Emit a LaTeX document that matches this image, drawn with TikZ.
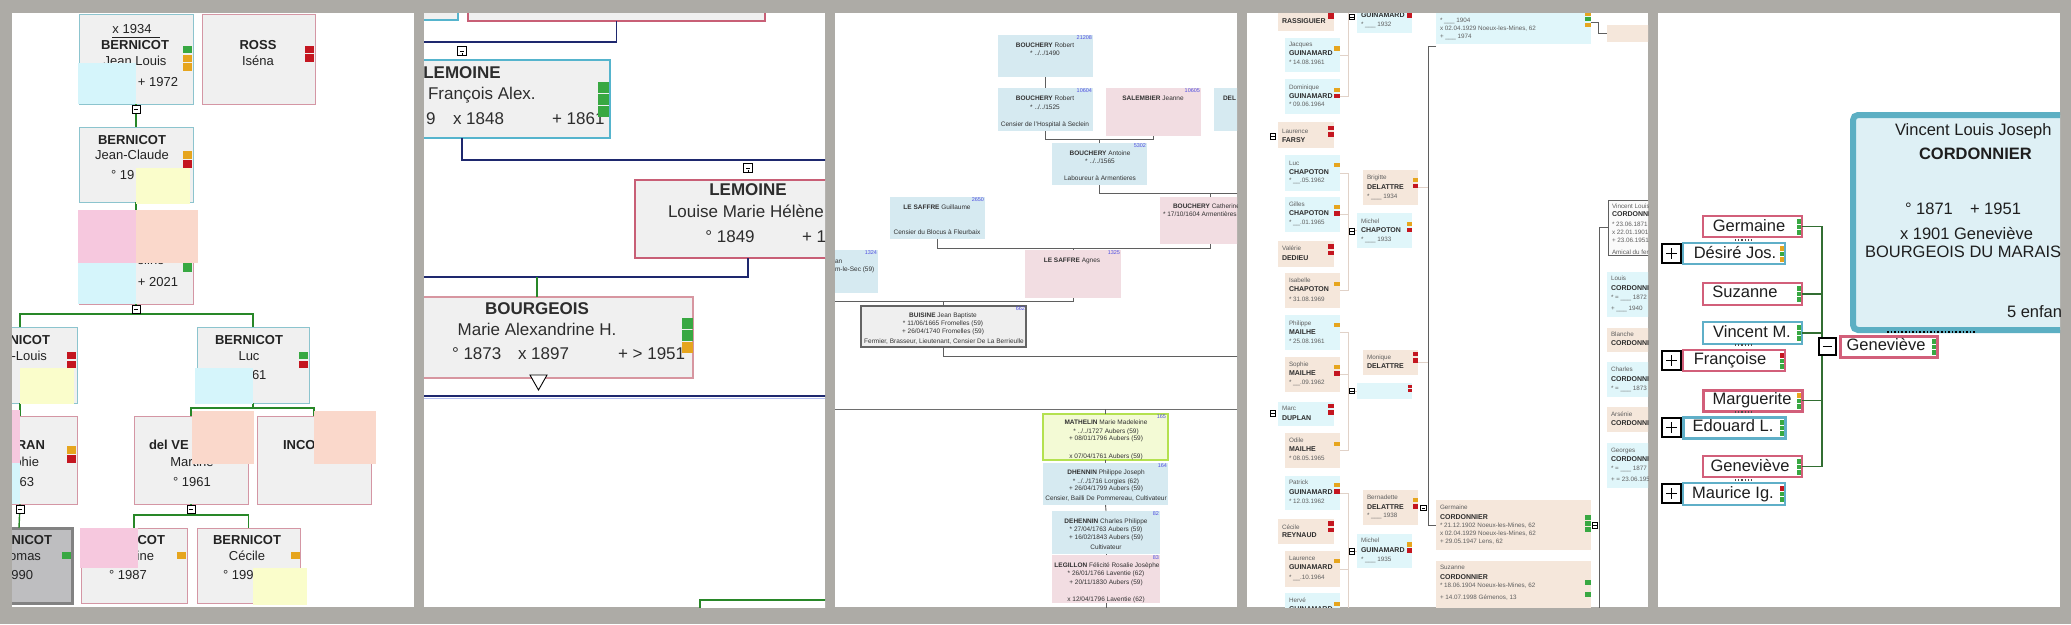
\documentclass[tikz,border=0pt]{standalone}
\usepackage{fontspec}
\setmainfont{Liberation Sans}
\usetikzlibrary{calc}
\definecolor{bgc}{RGB}{173,171,166}
\definecolor{boxg}{RGB}{240,240,240}
\definecolor{tealb}{RGB}{140,196,206}
\definecolor{pinkb}{RGB}{212,150,164}
\definecolor{mkg}{RGB}{56,168,66}
\definecolor{mko}{RGB}{230,165,30}
\definecolor{mkr}{RGB}{196,22,32}
\definecolor{ovc}{RGB}{213,245,251}
\definecolor{ovy}{RGB}{250,253,203}
\definecolor{ovp}{RGB}{246,200,222}
\definecolor{ovk}{RGB}{250,216,203}
\definecolor{gln}{RGB}{40,135,40}
\definecolor{txd}{RGB}{35,35,35}
\definecolor{grayfill}{RGB}{190,190,192}
\definecolor{grayb}{RGB}{130,130,130}
\definecolor{navy}{RGB}{30,40,110}
\definecolor{cyanb}{RGB}{85,180,205}
\definecolor{redb}{RGB}{200,95,118}
\definecolor{pinkt}{RGB}{215,150,160}
\definecolor{bluef}{RGB}{214,234,241}
\definecolor{pinkf}{RGB}{242,221,226}
\definecolor{numc}{RGB}{80,80,225}
\definecolor{lnc}{RGB}{95,95,95}
\definecolor{matf}{RGB}{243,250,213}
\definecolor{matb}{RGB}{180,225,80}
\definecolor{bluef4}{RGB}{224,246,250}
\definecolor{peach4}{RGB}{245,231,219}
\definecolor{lcon}{RGB}{225,210,200}
\definecolor{tfc}{RGB}{95,95,95}
\definecolor{tfb}{RGB}{45,45,45}
\definecolor{bigf}{RGB}{222,240,245}
\definecolor{bigb}{RGB}{92,175,195}
\definecolor{pkv}{RGB}{210,95,122}
\definecolor{tlv}{RGB}{95,175,200}
\definecolor{gcv}{RGB}{50,110,50}
\tikzset{
 bxs/.style={anchor=north west,inner sep=0,outer sep=0,shape=rectangle},
 txt/.style={inner sep=0,outer sep=0,anchor=mid,text=txd},
 pteal/.style={draw=tealb,fill=boxg,line width=1},
 ppink/.style={draw=pinkb,fill=boxg,line width=1},
 gl/.style={draw=gln,line width=1.4},
 nv/.style={draw=navy,line width=1.8},
 lthree/.style={draw=lnc,line width=0.9},
 lc/.style={draw=lcon,line width=0.7},
 ldark/.style={draw=lnc,line width=1},
 gfive/.style={draw=gcv,line width=1.3},
 sbox/.style={fill=white,line width=2},
 iconbox/.style={draw=black,fill=white,inner sep=0,outer sep=0,shape=rectangle},
}
\newcounter{tn}
\newcommand\T[4][]{\stepcounter{tn}\node[txt,#1] (t\arabic{tn}) at (#2,#3) {#4};}
\newcommand\Bx[6][]{\node[bxs,#1,minimum width={(#5)-(#3)},minimum height={(#6)-(#4)}] (#2) at (#3,#4) {};}
\newcommand\Mk[5]{\fill[#1] (#2,#3) rectangle (#4,#5);}
\newcommand\Mn[5][0.8]{\node[iconbox,line width=#1,minimum size=#5] (#2) at (#3,#4) {};
 \draw[line width=#1] ([xshift=-0.28*#5]#2.center) -- ([xshift=0.28*#5]#2.center);}
\newcommand\Pl[5][0.8]{\node[iconbox,line width=#1,minimum size=#5] (#2) at (#3,#4) {};
 \draw[line width=#1] ([xshift=-0.28*#5]#2.center) -- ([xshift=0.28*#5]#2.center);
 \draw[line width=#1] ([yshift=-0.28*#5]#2.center) -- ([yshift=0.28*#5]#2.center);}
\newcommand\Tri[5]{\fill[#3] (#1,#2) rectangle ++(3.5,4.5); \fill[#4] (#1,{#2+5.5}) rectangle ++(3.5,4.5); \fill[#5] (#1,{#2+11}) rectangle ++(3.5,4.5);}
\newcommand\Bf[1]{{\fontsize{7}{8}\selectfont\bfseries\color{tfb}#1}}
\begin{document}
\begin{tikzpicture}[x=1pt,y=-1pt]
\useasboundingbox (0,0) rectangle (2071,624);
\fill[bgc] (0,0) rectangle (2071,624);

%================ PANEL 1
\begin{scope}
\clip (12,13) rectangle (414,607);
\fill[white] (12,13) rectangle (414,607);
\begin{scope}[txt/.append style={font=\fontsize{13}{15}\selectfont}]
\Bx[pteal]{pA}{79}{14}{193}{104}
\Bx[ppink]{pRoss}{202}{14}{315}{104}
\Bx[pteal]{pB}{79}{127}{193}{202}
\Bx[ppink]{pC}{79}{216}{193}{304}
\Bx[pteal]{pD}{-37}{327}{77}{403}
\Bx[pteal]{pE}{197}{327}{309}{403}
\Bx[ppink]{pF}{-37}{416}{77}{504}
\Bx[ppink]{pG}{134}{416}{248}{504}
\Bx[ppink]{pH}{257}{416}{371}{504}
\Bx[draw=grayb,fill=grayfill,line width=3]{pI}{-34}{528}{72}{603}
\Bx[ppink]{pJ}{81}{528}{187}{603}
\Bx[ppink]{pK}{197}{528}{300}{603}
% connectors
\draw[gl] (pA.south) -- (pB.north);
\draw[gl] (pB.south) -- (pC.north);
\draw[gl] (pC.south) -- ++(0,10);
\draw[gl] (pD.north) -- ++(0,-13) -| (pE.north);
\draw[gl] (pD.south) -- (pF.north);
\draw[gl] (pE.south) -- ++(0,5) coordinate (pe1);
\draw[gl] (pG.north) |- (pe1) -| (pH.north);
\draw[gl] (pF.south) -- (pI.north);
\draw[gl] (pG.south) -- ++(0,11) coordinate (pg1);
\draw[gl] (pJ.north) |- (pg1) -| (pK.north);
\Mn{mA}{136}{109}{8}
\Mn{mC}{136}{309.5}{8}
\Mn{mF}{20}{509.5}{8}
\Mn{mG}{191}{509.5}{8}
% texts
\T{132}{31}{x 1934}
\draw[txd,line width=0.8] (112,37.5) -- (160,37.5);
\T{135}{47}{\textbf{BERNICOT}}
\T{135}{63}{Jean Louis}
\T{158}{84}{+ 1972}
\T{258}{47}{\textbf{ROSS}}
\T{258}{63}{Iséna}
\T{132}{142}{\textbf{BERNICOT}}
\T{132}{157}{Jean-Claude}
\T[anchor=mid west]{111}{177}{° 19}
\T[anchor=mid west]{137}{262}{eline}
\T{158}{284}{+ 2021}
\T[anchor=mid east]{50}{342}{\textbf{NICOT}}
\T[anchor=mid east]{47}{358}{-Louis}
\T{249}{342}{\textbf{BERNICOT}}
\T{249}{358}{Luc}
\T[anchor=mid west]{252}{377}{61}
\T[anchor=mid east]{45}{447}{\textbf{RAN}}
\T[anchor=mid east]{39}{464}{phie}
\T[anchor=mid east]{34}{484}{63}
\T[anchor=mid west]{149}{447}{\textbf{del VE}}
\T{192}{464}{Martine}
\T{192}{484}{° 1961}
\T[anchor=mid west]{283}{447}{\textbf{INCO}}
\T[anchor=mid east]{52}{542}{\textbf{NICOT}}
\T[anchor=mid east]{41}{558}{omas}
\T[anchor=mid east]{33}{577}{990}
\T[anchor=mid east]{165}{542}{\textbf{COT}}
\T[anchor=mid east]{154}{558}{ine}
\T{128}{577}{° 1987}
\T{247}{542}{\textbf{BERNICOT}}
\T{247}{558}{Cécile}
\T[anchor=mid west]{223}{577}{° 199}
\end{scope}
% markers
\Mk{mkg}{183}{46}{192}{53} \Mk{mko}{183}{55}{192}{62} \Mk{mko}{183}{63}{192}{71}
\Mk{mkr}{305}{46}{314}{53} \Mk{mkr}{305}{54}{314}{62}
\Mk{mko}{183}{151}{192}{159} \Mk{mkr}{183}{160}{192}{168}
\Mk{mkg}{183}{263}{192}{272}
\Mk{mkr}{67}{352}{76}{359} \Mk{mkr}{67}{361}{76}{368}
\Mk{mkg}{299}{352}{308}{359} \Mk{mkr}{299}{361}{308}{368}
\Mk{mko}{67}{446}{76}{454} \Mk{mkr}{67}{455}{76}{463}
\Mk{mkg}{62}{552}{71}{559}
\Mk{mko}{177}{552}{186}{559}
\Mk{mko}{291}{552}{300}{559}
% overlays
\fill[ovc] (78,63) rectangle (136,104);
\fill[ovy] (136,168) rectangle (190,204);
\fill[ovp] (78,210) rectangle (136,263);
\fill[ovk] (136,210) rectangle (198,263);
\fill[ovc] (78,263) rectangle (136,304);
\fill[ovy] (20,368) rectangle (74,404);
\fill[ovc] (195,368) rectangle (253,404);
\fill[ovp] (12,410) rectangle (20,463);
\fill[ovc] (12,463) rectangle (20,504);
\fill[ovk] (192,411) rectangle (254,464);
\fill[ovk] (314,411) rectangle (376,464);
\fill[ovp] (80,528) rectangle (138,568);
\fill[ovy] (253,568) rectangle (307,605);
\end{scope}

%================ PANEL 2
\begin{scope}
\clip (424,13) rectangle (825,607);
\fill[white] (424,13) rectangle (825,607);
\begin{scope}[txt/.append style={font=\fontsize{17}{19}\selectfont,text={rgb,255:red,45;green,45;blue,45}}]
\Bx[draw=cyanb,fill=boxg,line width=2.5]{qTC}{380}{-10}{458}{20}
\Bx[draw=redb,fill=boxg,line width=2.5]{qTP}{468}{-10}{765}{21}
\Bx[draw=cyanb,fill=boxg,line width=2.5]{qLF}{314}{60}{610}{138}
\Bx[draw=redb,fill=boxg,line width=2.5]{qLL}{635}{180}{861}{258}
\Bx[draw=pinkt,fill=boxg,line width=1.2]{qBG}{381}{297}{693}{378}
\Bx[draw=gln,fill=white,line width=2.5]{qGB}{700}{600}{860}{640}
\coordinate (qL1) at (400,42);
\coordinate (qR1) at (840,160);
\coordinate (qL2) at (400,277);
\coordinate (qf) at (462,138);
\draw[nv] (qTP.south) |- (qL1);
\draw[nv] (qf) |- (qR1);
\draw[nv] (qLL.south) |- (qL2);
\draw[draw=gln,line width=2.2] (qBG.north) -- ++(0,-20);
\draw[draw={rgb,255:red,180;green,190;blue,240},line width=1] (400,398.5) -- (840,398.5);
\draw[nv] (400,396) coordinate (qL3) -- (840,396) coordinate (qR3);
% small link icons
\node[iconbox,line width=0.9,minimum width=9,minimum height=9] (qi1) at (462,51) {};
\draw[line width=0.9] ([yshift=-4.5]qi1.center) -- ++(0,-3);
\draw[line width=0.9] ([xshift=-2]qi1.center) -- ([xshift=2]qi1.center);
\node[iconbox,line width=0.9,minimum width=9,minimum height=9] (qi2) at (748,168) {};
\draw[line width=0.9] ([yshift=-4.5]qi2.center) -- ++(0,-3);
\draw[line width=0.9] ([xshift=-2]qi2.center) -- ([xshift=2]qi2.center);
\draw[fill=white,line width=0.9] (530,375) -- (547,375) -- (538.5,390) -- cycle;
\T{462}{76}{\textbf{LEMOINE}}
\T[anchor=mid west]{428}{97}{François Alex.}
\T[anchor=mid west]{426}{122}{9}
\T[anchor=mid west]{453}{122}{x 1848}
\T[anchor=mid west]{552}{122}{+ 1861}
\T{748}{193}{\textbf{LEMOINE}}
\T[anchor=mid west]{668}{215}{Louise Marie Hélène}
\T{730}{240}{° 1849}
\T[anchor=mid west]{802}{240}{+ 1}
\T{537}{312}{\textbf{BOURGEOIS}}
\T{537}{333}{Marie Alexandrine H.}
\T[anchor=mid west]{452}{357}{° 1873}
\T[anchor=mid west]{518}{357}{x 1897}
\T[anchor=mid west]{618}{357}{+ > 1951}
\end{scope}
\Mk{mkg}{598}{82}{609}{93} \Mk{mkg}{598}{94}{609}{105} \Mk{mkg}{598}{106}{609}{117}
\Mk{mkg}{682}{318}{693}{329} \Mk{mkg}{682}{330}{693}{341} \Mk{mko}{682}{342}{693}{353}
\end{scope}

%================ PANEL 3
\begin{scope}
\clip (835,13) rectangle (1237,607);
\fill[white] (835,13) rectangle (1237,607);
\begin{scope}[txt/.append style={font=\fontsize{6.5}{7.5}\selectfont,text={rgb,255:red,50;green,50;blue,50}}]
\Bx[fill=bluef]{rR1}{998}{35}{1093}{77}
\Bx[fill=bluef]{rR2}{998}{88}{1093}{131}
\Bx[fill=pinkf]{rSJ}{1106}{88}{1201}{136}
\Bx[fill=bluef]{rDL}{1214}{88}{1260}{131}
\Bx[fill=bluef]{rBA}{1052}{143}{1147}{185}
\Bx[fill=pinkf]{rBC}{1160}{197}{1260}{244}
\Bx[fill=bluef]{rLG}{890}{197}{985}{239}
\Bx[fill=pinkf]{rLA}{1025}{250}{1121}{298}
\Bx[fill=bluef]{rX}{810}{250}{878}{293}
\Bx[fill={rgb,255:red,239;green,239;blue,239},draw={rgb,255:red,100;green,100;blue,100},line width=1.5]{rBU}{861}{306}{1026}{347}
\Bx[fill=matf,draw=matb,line width=2]{rMA}{1043}{414}{1168}{460}
\Bx[fill=bluef]{rDH}{1043}{463}{1168}{505}
\Bx[fill=bluef]{rDE}{1052}{511}{1160}{554}
\Bx[fill=pinkf]{rLE}{1052}{555}{1160}{603}
\coordinate (rc1) at (1250,193);
\coordinate (rc2) at (820,301);
\coordinate (rc3) at (1250,356);
\draw[lthree] (rR1.south) -- (rR2.north);
\draw[lthree] (rR2.south) -- ++(0,8) -| (rSJ.south);
\draw[lthree] (rBA.north) -- ++(0,-4);
\draw[lthree] (rBA.south) |- (rc1);
\draw[lthree] (rBC.north) -- ++(0,-4);
\draw[lthree] (rLG.south) -- ++(0,9) -| (rBC.south);
\draw[lthree] (rLA.north) -- ++(0,-2);
\draw[lthree] (rc2) -| (rLA.south);
\draw[lthree] (rBU.north) -- ++(0,-5);
\draw[lthree] (rBU.south) |- (rc3);
\draw[draw={rgb,255:red,110;green,110;blue,110},line width=1] (835,409) coordinate (rs1) -- (1237,409) coordinate (rs2);
\draw[lthree] (rMA.north) -- ++(0,-5);
\draw[lthree] (rMA.south) -- (rDH.north);
\draw[lthree] (rDH.south) -- (rDE.north);
\draw[lthree] (rDE.south) -- (rLE.north);
\draw[lthree] (rLE.south) -- ++(0,5);
\T{1045}{45}{\textbf{BOUCHERY} Robert}
\T{1045}{53}{* ../../1490}
\T{1045}{98}{\textbf{BOUCHERY} Robert}
\T{1045}{107}{* ../../1525}
\T{1045}{124}{Censier de l'Hospital à Seclein}
\T{1153}{98}{\textbf{SALEMBIER} Jeanne}
\T[anchor=mid west]{1223}{98}{\textbf{DEL}}
\T{1100}{153}{\textbf{BOUCHERY} Antoine}
\T{1100}{161}{* ../../1565}
\T{1100}{178}{Laboureur à Armentieres}
\T[anchor=mid west]{1173}{206}{\textbf{BOUCHERY} Catherine}
\T[anchor=mid west]{1163}{214}{* 17/10/1604 Armentières}
\T{937}{207}{\textbf{LE SAFFRE} Guillaume}
\T{937}{232}{Censier du Blocus à Fleurbaix}
\T{1072}{260}{\textbf{LE SAFFRE} Agnes}
\T[anchor=mid west]{835}{261}{an}
\T[anchor=mid west]{835}{269}{m-le-Sec (59)}
\T{943}{315}{\textbf{BUISINE} Jean Baptiste}
\T{943}{323}{* 11/06/1665 Fromelles (59)}
\T{943}{331}{+ 26/04/1740 Fromelles (59)}
\T{944}{341}{Fermier, Brasseur, Lieutenant, Censier De La Berrieulle}
\T{1106}{422}{\textbf{MATHELIN} Marie Madeleine}
\T{1106}{431}{* ../../1727 Aubers (59)}
\T{1106}{438}{+ 08/01/1796 Aubers (59)}
\T{1106}{456}{x 07/04/1761 Aubers (59)}
\T{1106}{472}{\textbf{DHENNIN} Philippe Joseph}
\T{1106}{481}{* ../../1716 Lorgies (62)}
\T{1106}{488}{+ 26/04/1799 Aubers (59)}
\T{1106}{498}{Censier, Bailli De Pommereau, Cultivateur}
\T{1106}{521}{\textbf{DEHENNIN} Charles Philippe}
\T{1106}{529}{* 27/04/1763 Aubers (59)}
\T{1106}{537}{+ 16/02/1843 Aubers (59)}
\T{1106}{547}{Cultivateur}
\T{1107}{565}{\textbf{LEGILLON} Félicité Rosalie Josèphe}
\T{1106}{573}{* 26/01/1766 Laventie (62)}
\T{1106}{582}{+ 20/11/1830 Aubers (59)}
\T{1106}{599}{x 12/04/1796 Laventie (62)}
\end{scope}
\begin{scope}[txt/.append style={font=\fontsize{5.5}{6}\selectfont,text=numc,anchor=north east}]
\T{1092}{36}{21208}
\T{1092}{89}{10604}
\T{1200}{89}{10605}
\T{1146}{144}{5302}
\T{984}{198}{2650}
\T{1120}{251}{1325}
\T{877}{251}{1324}
\T{1025}{307}{662}
\T{1166}{415}{165}
\T{1167}{464}{164}
\T{1159}{512}{82}
\T{1159}{556}{83}
\end{scope}
\end{scope}

%================ PANEL 4
\begin{scope}
\clip (1247,13) rectangle (1648,607);
\fill[white] (1247,13) rectangle (1648,607);
\begin{scope}[txt/.append style={font=\fontsize{6.3}{7}\selectfont,text=tfc,anchor=mid west}]
% left column
\Bx[fill=peach4]{sRA}{1278}{-5}{1334}{31}
\Bx[fill=bluef4]{sJa}{1285}{38}{1340}{72}
\Bx[fill=bluef4]{sDo}{1285}{79}{1340}{114}
\Bx[fill=peach4]{sFa}{1278}{122}{1334}{148}
\Bx[fill=bluef4]{sLu}{1285}{155}{1340}{191}
\Bx[fill=bluef4]{sGi}{1285}{197}{1340}{232}
\Bx[fill=peach4]{sVa}{1278}{241}{1334}{267}
\Bx[fill=peach4]{sIs}{1285}{273}{1340}{308}
\Bx[fill=bluef4]{sPh}{1285}{315}{1340}{350}
\Bx[fill=peach4]{sSo}{1285}{357}{1340}{392}
\Bx[fill=bluef4]{sMa}{1278}{402}{1334}{426}
\Bx[fill=peach4]{sOd}{1285}{433}{1340}{468}
\Bx[fill=bluef4]{sPa}{1285}{476}{1340}{510}
\Bx[fill=peach4]{sCe}{1278}{519}{1334}{544}
\Bx[fill=peach4]{sLa}{1285}{551}{1340}{587}
\Bx[fill=bluef4]{sHe}{1285}{593}{1340}{625}
% middle column
\Bx[fill=bluef4]{sG32}{1357}{-5}{1412}{33}
\Bx[fill=peach4]{sBr}{1363}{170}{1418}{205}
\Bx[fill=bluef4]{sMC}{1357}{213}{1412}{248}
\Bx[fill=peach4]{sMo}{1363}{350}{1418}{375}
\Bx[fill=bluef4]{sBl}{1357}{383}{1412}{399}
\Bx[fill=peach4]{sBe}{1363}{490}{1418}{525}
\Bx[fill=bluef4]{sMG}{1357}{534}{1412}{568}
% right columns
\Bx[fill=bluef4]{sTop}{1436}{-5}{1591}{44}
\Bx[fill=peach4]{sGe}{1436}{500}{1591}{550}
\Bx[fill=peach4]{sSu}{1436}{561}{1591}{625}
\Bx[fill=peach4]{sTR}{1607}{25}{1660}{42}
\Bx[fill={rgb,255:red,250;green,250;blue,250},draw=lnc,line width=0.8]{sVi}{1608}{200}{1660}{255}
\Bx[fill=bluef4]{sLo}{1607}{272}{1660}{317}
\Bx[fill=peach4]{sBn}{1607}{328}{1660}{352}
\Bx[fill=bluef4]{sCh}{1607}{362}{1660}{397}
\Bx[fill=peach4]{sAr}{1607}{407}{1660}{432}
\Bx[fill=bluef4]{sGo}{1607}{443}{1660}{488}
% light connectors
\draw[lc] (sJa.east) -| (1348,13) coordinate (sk1);
\draw[lc] (sDo.east) -| (1348,55);
\draw[lc] (sLu.east) -| (1348,290.5) coordinate (sk2);
\draw[lc] (sGi.east) -- ++(8,0);
\draw[lc] (sIs.east) -- ++(8,0);
\draw[lc] (1348,230.5) -- (sMC.west);
\draw[lc] (sPh.east) -| (1348,450.5) coordinate (sk3);
\draw[lc] (sSo.east) -- ++(8,0);
\draw[lc] (sOd.east) -- ++(8,0);
\draw[lc] (1348,391) -- (sBl.west);
\draw[lc] (sPa.east) -| (1348,610) coordinate (sk4);
\draw[lc] (sLa.east) -- ++(8,0);
\draw[lc] (1348,551) -- (sMG.west);
\draw[lc] (sBr.east) -- ++(10,0);
\draw[lc] (sMo.east) -- ++(10,0);
% dark connectors
\draw[ldark] ([yshift=-27]sTop.west) -- ++(-8,0) coordinate (sd1) |- (sGe.west);
\draw[ldark] ([yshift=-3]sTop.east) -- ++(7,0) |- (sTR.west);
\draw[ldark] (sVi.west) -- ++(-9,0) coordinate (sd2) -- (1599,612) coordinate (sd3);
% icons
\Mn[0.6]{si1}{1352}{17}{5.5}
\Mn[0.6]{si2}{1273}{136.5}{5.5}
\Mn[0.6]{si3}{1352}{231.5}{5.5}
\Mn[0.6]{si4}{1273}{413.5}{5.5}
\Mn[0.6]{si5}{1352}{391}{5.5}
\Mn[0.6]{si6}{1423.5}{508}{5.5}
\Mn[0.6]{si7}{1352}{551.5}{5.5}
\Mn[0.6]{si8}{1595}{525.5}{5.5}
% texts
\T{1282}{21}{\Bf{RASSIGUIER}}
\T{1289}{44}{Jacques} \T{1289}{53}{\Bf{GUINAMARD}} \T{1289}{62}{* 14.08.1961}
\T{1289}{87}{Dominique} \T{1289}{96}{\Bf{GUINAMARD}} \T{1289}{104}{* 09.06.1964}
\T{1282}{131}{Laurence} \T{1282}{140}{\Bf{FARSY}}
\T{1289}{163}{Luc} \T{1289}{172}{\Bf{CHAPOTON}} \T{1289}{180}{* \_\_.05.1962}
\T{1289}{204}{Gilles} \T{1289}{213}{\Bf{CHAPOTON}} \T{1289}{222}{* \_\_.01.1965}
\T{1282}{248}{Valérie} \T{1282}{258}{\Bf{DEDIEU}}
\T{1289}{280}{Isabelle} \T{1289}{289}{\Bf{CHAPOTON}} \T{1289}{299}{* 31.08.1969}
\T{1289}{323}{Philippe} \T{1289}{332}{\Bf{MAILHE}} \T{1289}{341}{* 25.08.1961}
\T{1289}{364}{Sophie} \T{1289}{373}{\Bf{MAILHE}} \T{1289}{382}{* \_\_.09.1962}
\T{1282}{408}{Marc} \T{1282}{418}{\Bf{DUPLAN}}
\T{1289}{440}{Odile} \T{1289}{449}{\Bf{MAILHE}} \T{1289}{458}{* 08.05.1965}
\T{1289}{482}{Patrick} \T{1289}{492}{\Bf{GUINAMARD}} \T{1289}{501}{* 12.03.1962}
\T{1282}{527}{Cécile} \T{1282}{535}{\Bf{REYNAUD}}
\T{1289}{558}{Laurence} \T{1289}{567}{\Bf{GUINAMARD}} \T{1289}{577}{* \_\_.10.1964}
\T{1289}{600}{Hervé} \T{1289}{609}{\Bf{GUINAMARD}}
\T{1361}{15}{\Bf{GUINAMARD}} \T{1361}{24}{* \_\_\_ 1932}
\T{1367}{177}{Brigitte} \T{1367}{187}{\Bf{DELATTRE}} \T{1367}{196}{* \_\_\_ 1934}
\T{1361}{221}{Michel} \T{1361}{230}{\Bf{CHAPOTON}} \T{1361}{239}{* \_\_\_ 1933}
\T{1367}{357}{Monique} \T{1367}{366}{\Bf{DELATTRE}}
\T{1367}{497}{Bernadette} \T{1367}{507}{\Bf{DELATTRE}} \T{1367}{515}{* \_\_\_ 1938}
\T{1361}{540}{Michel} \T{1361}{550}{\Bf{GUINAMARD}} \T{1361}{559}{* \_\_\_ 1935}
\T{1440}{20}{* \_\_\_ 1904} \T{1440}{28}{x 02.04.1929 Noeux-les-Mines, 62} \T{1440}{36}{+ \_\_\_ 1974}
\T{1440}{507}{Germaine} \T{1440}{517}{\Bf{CORDONNIER}} \T{1440}{525}{* 21.12.1902 Noeux-les-Mines, 62}
\T{1440}{533}{x 02.04.1929 Noeux-les-Mines, 62} \T{1440}{541}{+ 29.05.1947 Lens, 62}
\T{1440}{567}{Suzanne} \T{1440}{577}{\Bf{CORDONNIER}} \T{1440}{585}{* 18.06.1904 Noeux-les-Mines, 62}
\T{1440}{597}{+ 14.07.1998 Gémenos, 13}
\T{1612}{206}{Vincent Louis} \T{1612}{214}{\Bf{CORDONNIER}} \T{1612}{224}{* 23.06.1871}
\T{1612}{232}{x 22.01.1901} \T{1612}{240}{+ 23.06.1951} \T{1612}{252}{Amical du fer}
\T{1611}{278}{Louis} \T{1611}{288}{\Bf{CORDONNIER}} \T{1611}{297}{* = \_\_\_ 1872} \T{1611}{308}{+ \_\_\_ 1940}
\T{1611}{334}{Blanche} \T{1611}{343}{\Bf{CORDONNIER}}
\T{1611}{369}{Charles} \T{1611}{379}{\Bf{CORDONNIER}} \T{1611}{388}{* = \_\_\_ 1873}
\T{1611}{414}{Arsénie} \T{1611}{423}{\Bf{CORDONNIER}}
\T{1611}{450}{Georges} \T{1611}{459}{\Bf{CORDONNIER}} \T{1611}{468}{* = \_\_\_ 1877} \T{1611}{479}{+ = 23.06.1951}
\end{scope}
% markers
\Mk{mkr}{1328}{13}{1334}{19}
\Mk{mko}{1334}{46}{1340}{51}
\Mk{mko}{1334}{88}{1340}{92} \Mk{mkr}{1334}{94}{1340}{98}
\Mk{mkr}{1328}{126}{1334}{130} \Mk{mkr}{1328}{132}{1334}{137}
\Mk{mko}{1334}{163}{1340}{167}
\Mk{mko}{1334}{205}{1340}{209} \Mk{mkr}{1334}{211}{1340}{216}
\Mk{mkr}{1328}{244}{1334}{249} \Mk{mkr}{1328}{251}{1334}{255}
\Mk{mko}{1334}{282}{1340}{286}
\Mk{mko}{1334}{323}{1340}{327}
\Mk{mko}{1334}{365}{1340}{369} \Mk{mkr}{1334}{371}{1340}{376}
\Mk{mkr}{1328}{404}{1334}{408} \Mk{mkr}{1328}{410}{1334}{415}
\Mk{mko}{1334}{442}{1340}{446}
\Mk{mko}{1334}{483}{1340}{487} \Mk{mkr}{1334}{489}{1340}{494}
\Mk{mkr}{1328}{521}{1334}{526} \Mk{mkr}{1328}{528}{1334}{532}
\Mk{mko}{1334}{559}{1340}{563}
\Mk{mko}{1334}{602}{1340}{606}
\Mk{mkr}{1407}{13}{1412}{18}
\Mk{mko}{1413}{178}{1418}{182} \Mk{mkr}{1413}{184}{1418}{188}
\Mk{mko}{1407}{222}{1412}{226} \Mk{mkr}{1407}{228}{1412}{232}
\Mk{mkr}{1413}{352}{1418}{356} \Mk{mkr}{1413}{358}{1418}{363}
\Mk{mkr}{1408}{385}{1412}{388} \Mk{mkr}{1408}{389}{1412}{392}
\Mk{mko}{1413}{498}{1418}{502} \Mk{mkr}{1413}{504}{1418}{509}
\Mk{mko}{1407}{542}{1412}{547} \Mk{mkr}{1407}{548}{1412}{553}
\Mk{mko}{1585}{13}{1591}{16} \Mk{mkg}{1585}{17}{1591}{21} \Mk{mko}{1585}{23}{1591}{27}
\Mk{mkg}{1585}{515}{1591}{520} \Mk{mkg}{1585}{521}{1591}{526} \Mk{mkg}{1585}{527}{1591}{532}
\Mk{mkg}{1585}{580}{1591}{585} \Mk{mkg}{1585}{592}{1591}{597}
\end{scope}

%================ PANEL 5
\begin{scope}
\clip (1658,13) rectangle (2060,607);
\fill[white] (1658,13) rectangle (2060,607);
\node[bxs,fill=bigf,draw=bigb,line width=6,rounded corners=5,minimum width=260,minimum height=215] (vBig) at (1853,115) {};
\draw[black,line width=1.6,dotted] (1887,332) coordinate (vd1) -- (1975,332) coordinate (vd2);
\begin{scope}[txt/.append style={font=\fontsize{16.5}{18}\selectfont,text={rgb,255:red,30;green,30;blue,30}}]
\T[anchor=mid west]{1895}{133}{Vincent Louis Joseph}
\T[anchor=mid west]{1919}{157}{\textbf{CORDONNIER}}
\T[anchor=mid west]{1905}{212}{° 1871}
\T[anchor=mid west]{1970}{212}{+ 1951}
\T[anchor=mid west]{1900}{237}{x 1901 Geneviève}
\T[anchor=mid west]{1865}{255}{BOURGEOIS DU MARAIS}
\T[anchor=mid west]{2007}{315}{5 enfants}
\Bx[sbox,draw=pkv]{vGe}{1703}{216}{1802}{237}
\Bx[sbox,draw=tlv]{vDe}{1683}{243}{1785}{264}
\Bx[sbox,draw=pkv]{vSu}{1703}{283}{1802}{305}
\Bx[sbox,draw=tlv]{vVi}{1703}{322}{1802}{344}
\Bx[sbox,draw=pkv]{vFr}{1683}{350}{1785}{371}
\Bx[sbox,draw=pkv,line width=3]{vGR}{1840}{336}{1937}{357}
\Bx[sbox,draw=pkv,line width=3]{vMa}{1703}{390}{1802}{411}
\Bx[sbox,draw=tlv,line width=3]{vEd}{1683}{417}{1785}{438}
\Bx[sbox,draw=pkv]{vGn}{1703}{456}{1802}{477}
\Bx[sbox,draw=tlv]{vMr}{1683}{483}{1785}{505}
\draw[gfive] (vGe.east) -- ++(20,0) coordinate (vc1) -- (vc1 |- vGn.east) -- (vGn.east);
\draw[gfive] (vSu.east) -- (vSu.east -| vc1);
\draw[gfive] (vVi.east) -- (vVi.east -| vc1);
\draw[gfive] (vMa.east) -- (vMa.east -| vc1);
\Mn[1.2]{vmn}{1827.5}{346.5}{17}
\Pl[1.2]{vp1}{1671.5}{253.5}{19}
\Pl[1.2]{vp2}{1671.5}{360.5}{19}
\Pl[1.2]{vp3}{1671.5}{427.5}{19}
\Pl[1.2]{vp4}{1671.5}{493.5}{19}
\T{1749}{229}{Germaine}
\T{1735}{256}{Désiré Jos.}
\T{1745}{295}{Suzanne}
\T{1752}{335}{Vincent M.}
\T{1730}{362}{Françoise}
\T{1886}{348}{Geneviève}
\T{1752}{402}{Marguerite}
\T{1733}{429}{Edouard L.}
\T{1750}{469}{Geneviève}
\T{1733}{496}{Maurice Ig.}
\end{scope}
\foreach \yy/\nm in {240/a,345/b,412/c,480/d} {\draw[black!70,line width=1.2,dotted] (1735,\yy) coordinate (vdt\nm) -- (1753,\yy);}
\Tri{1797}{219}{mkg}{mkg}{mkg}
\Tri{1780}{246}{mko}{mkg}{mko}
\Tri{1797}{286}{mkg}{mkg}{mkg}
\Tri{1797}{325}{mkg}{mkg}{mkg}
\Tri{1780}{353}{mkr}{mkg}{mkg}
\Tri{1932}{339}{mkg}{mkg}{mkg}
\Tri{1797}{393}{mko}{mkg}{mkg}
\Tri{1780}{420}{mkg}{mkg}{mkg}
\Tri{1797}{459}{mkg}{mkg}{mkg}
\Tri{1780}{486}{mkr}{mkg}{mkg}
\end{scope}
\end{tikzpicture}
\end{document}
